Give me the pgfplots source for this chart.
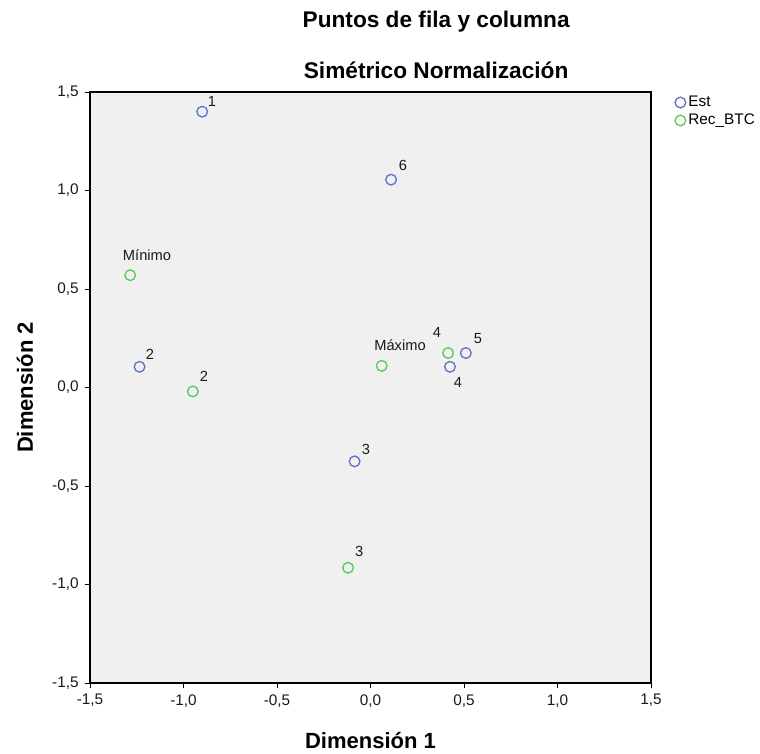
\documentclass[border=0pt]{standalone}
\usepackage{pgfplots}
\pgfplotsset{compat=1.18}
\usepackage{fontspec}
\setmainfont{Liberation Sans}
\definecolor{estblue}{RGB}{95,115,200}
\definecolor{recgreen}{RGB}{90,200,95}
\definecolor{bggray}{RGB}{240,240,240}
\begin{document}
\begin{tikzpicture}
\begin{axis}[
  scale only axis,
  width=420.75pt, height=443.25pt,
  xmin=-1.5, xmax=1.5, ymin=-1.5, ymax=1.5,
  xtick={-1.5,-1,...,1.5}, ytick={-1.5,-1,...,1.5},
  tick align=outside, tick pos=left,
  major tick length=4pt,
  axis background/.style={fill=bggray},
  axis line style={black, line width=0.8pt},
  tick style={black, line width=0.6pt},
  /pgf/number format/.cd, fixed, fixed zerofill, precision=1, use comma, assume math mode=true,
  /pgfplots/.cd,
  ticklabel style={font=\fontsize{11.5}{12}\selectfont, text=black!90},
  xticklabel style={yshift=-1pt},
  yticklabel style={xshift=-1pt},
  legend style={at={(1.04,1.0)}, anchor=north west, draw=none, fill=none,
    font=\fontsize{11.5}{13}\selectfont, row sep=0pt, inner sep=1pt,
    legend image post style={xshift=3pt}},
  legend cell align=left,
  clip=false,
]
\addplot[only marks, mark=o, mark size=4pt, mark options={line width=1pt, draw=estblue}] coordinates {
  (-0.90,1.40) (0.11,1.055) (-1.235,0.105) (-0.085,-0.375) (0.425,0.105) (0.51,0.175)
};
\addlegendentry{Est}
\addplot[only marks, mark=o, mark size=4pt, mark options={line width=1pt, draw=recgreen}] coordinates {
  (-1.285,0.57) (-0.95,-0.02) (0.06,0.11) (0.415,0.175) (-0.12,-0.915)
};
\addlegendentry{Rec\_BTC}
\begin{scope}[every node/.style={font=\fontsize{11}{12}\selectfont, text=black!90, inner sep=0pt}]
\node at (axis cs:-0.848,1.454) {1};
\node at (axis cs:0.174,1.129) {6};
\node at (axis cs:-1.179,0.170) {2};
\node at (axis cs:-0.024,-0.312) {3};
\node at (axis cs:0.468,0.028) {4};
\node at (axis cs:0.575,0.251) {5};
\node at (axis cs:-1.195,0.673) {Mínimo};
\node at (axis cs:-0.890,0.058) {2};
\node at (axis cs:0.158,0.216) {Máximo};
\node at (axis cs:0.356,0.277) {4};
\node at (axis cs:-0.061,-0.830) {3};
\end{scope}
\node[font=\bfseries\fontsize{17}{19}\selectfont] at (rel axis cs:0.617,1.0) [yshift=52.5pt] {Puntos de fila y columna};
\node[font=\bfseries\fontsize{17}{19}\selectfont] at (rel axis cs:0.617,1.0) [yshift=16.5pt] {Simétrico Normalización};
\node[font=\bfseries\fontsize{16.5}{18}\selectfont] at (rel axis cs:0.5,0) [yshift=-43.5pt] {Dimensión 1};
\node[xshift=-48.75pt, rotate=90, font=\bfseries\fontsize{16.5}{18}\selectfont] at (rel axis cs:0,0.5) {Dimensión 2};
\end{axis}
\path[use as bounding box] (-67.5pt,-49.5pt) rectangle (502.5pt,512.25pt);
\end{tikzpicture}
\end{document}
